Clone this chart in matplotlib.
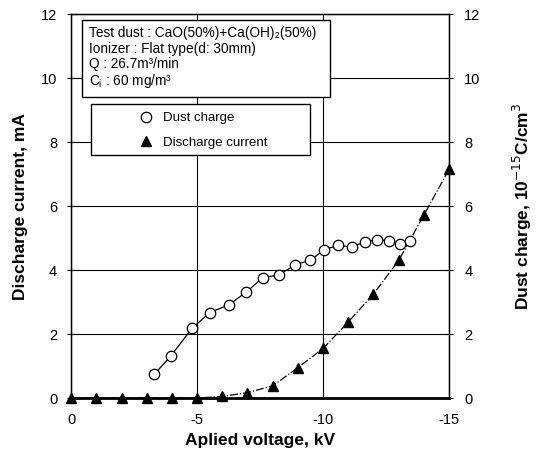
import numpy as np
import matplotlib.pyplot as plt
from matplotlib.patches import Rectangle

plt.rcParams['font.family'] = ['Liberation Sans', 'DejaVu Sans']

# dust charge (right axis, 10^-15 C/cm3)
charge_kv = [-3.3, -3.95, -4.8, -5.5, -6.25, -6.95, -7.6, -8.25, -8.9, -9.5,
             -10.05, -10.6, -11.15, -11.65, -12.15, -12.6, -13.05, -13.45]
charge_val = [0.74, 1.31, 2.18, 2.67, 2.91, 3.31, 3.76, 3.85, 4.17, 4.31,
              4.64, 4.77, 4.72, 4.88, 4.95, 4.92, 4.81, 4.92]

# discharge current (left axis, mA)
current_kv = [0, -1, -2, -3, -4, -5, -6, -7, -8, -9, -10, -11, -12, -13, -14, -15]
current_val = [0, 0, 0, 0, 0, 0, 0.05, 0.17, 0.38, 0.95, 1.55, 2.38, 3.25,
               4.3, 5.72, 7.15]

x_ticks = [0, -5, -10, -15]
x_ticklabels = ['0', '-5', '-10', '-15']
y_ticks = [0, 2, 4, 6, 8, 10, 12]

fig = plt.figure(figsize=(5.43, 4.57), dpi=100)
ax = fig.add_axes([0.131, 0.129, 0.696, 0.840])

ax.plot(current_kv, current_val, linestyle='-.', color='black', lw=0.9,
        marker='^', markersize=7, markerfacecolor='black', clip_on=False,
        zorder=4, label='Discharge current')
ax.plot(charge_kv, charge_val, linestyle='-', color='black', lw=0.9,
        marker='o', markersize=7.5, markerfacecolor='white',
        markeredgewidth=0.9, zorder=4, label='Dust charge')

ax.set_xlim(0, -15)
ax.set_ylim(0, 12)
ax.set_xticks(x_ticks)
ax.set_xticklabels(x_ticklabels)
ax.set_yticks(y_ticks)
ax.grid(True, color='black', lw=0.8)
ax.tick_params(direction='inout', length=6, width=0.8, labelsize=10.5,
               colors='black', pad=7)
ax.tick_params(axis='x', length=0, pad=11)
for s in ax.spines.values():
    s.set_linewidth(1.0)
ax.spines['bottom'].set_linewidth(2.0)

ax.set_xlabel('Aplied voltage, kV', fontsize=12.5, fontweight='bold',
              labelpad=4)
ax.set_ylabel('Discharge current, mA', fontsize=12.5, fontweight='bold',
              labelpad=9)

ax2 = ax.twinx()
ax2.set_ylim(0, 12)
ax2.set_yticks(y_ticks)
ax2.tick_params(direction='inout', length=6, width=0.8, labelsize=10.5, pad=8)
ax2.set_ylabel('Dust charge, 10$^{-15}$C/cm$^3$', fontsize=12.5,
               fontweight='bold', labelpad=22)

# condition box
info = ('Test dust : CaO(50%)+Ca(OH)\u2082(50%)\n'
        'Ionizer : Flat type(d: 30mm)\n'
        'Q : 26.7m\u00b3/min\n'
        'C$\\mathregular{_i}$ : 60 mg/m\u00b3')
ax.add_patch(Rectangle((0.029, 0.784), 0.656, 0.200, transform=ax.transAxes,
                       fc='white', ec='black', lw=1.0, zorder=6))
ax.text(0.048, 0.968, info, transform=ax.transAxes, fontsize=9.8,
        va='top', ha='left', linespacing=1.1, zorder=7)

# legend with its own wide frame
ax.add_patch(Rectangle((0.053, 0.633), 0.579, 0.133, transform=ax.transAxes,
                       fc='white', ec='black', lw=1.0, zorder=6))
h, l = ax.get_legend_handles_labels()
leg = ax.legend([h[1], h[0]], [l[1], l[0]], loc='center left',
                bbox_to_anchor=(0.181, 0.697), fontsize=9.5, frameon=False,
                handlelength=1.0, borderpad=0, labelspacing=0.95,
                borderaxespad=0, handletextpad=0.8)
for lh in leg.legend_handles:
    lh.set_linestyle('none')
leg.set_zorder(7)

fig.savefig('out.png', dpi=100)
